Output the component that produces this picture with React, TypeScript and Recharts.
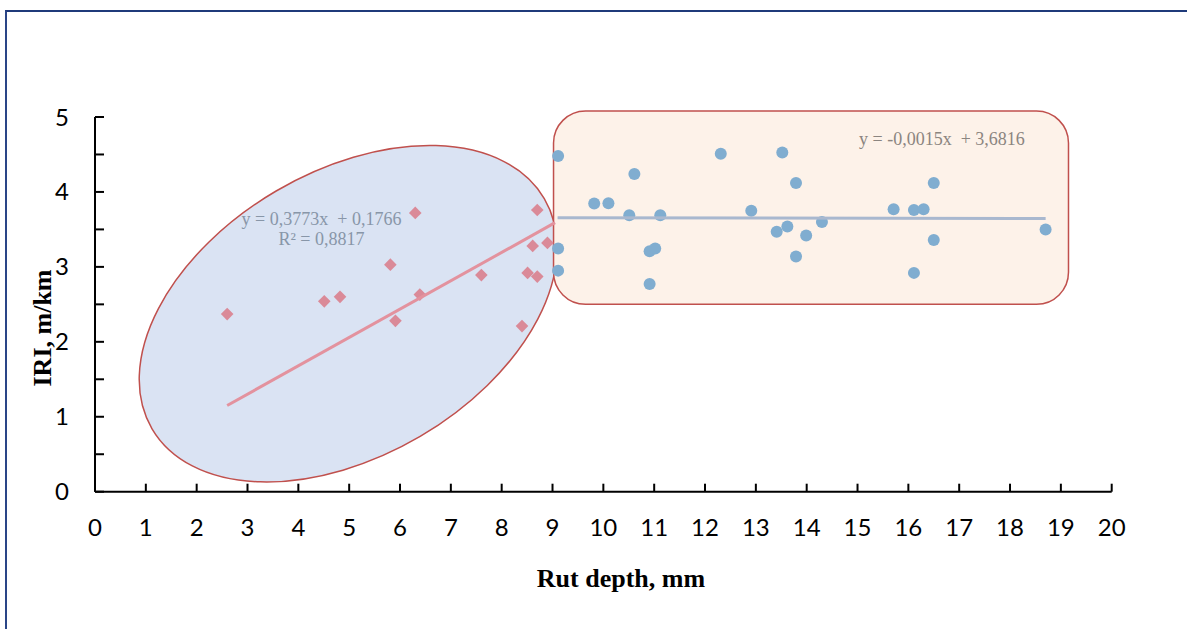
import React from "react";
import { ScatterChart, Scatter, XAxis, YAxis, ReferenceArea, Label } from "recharts";

const xTicks = [0, 1, 2, 3, 4, 5, 6, 7, 8, 9, 10, 11, 12, 13, 14, 15, 16, 17, 18, 19, 20];
const yTicks = [0, 0.5, 1, 1.5, 2, 2.5, 3, 3.5, 4, 4.5, 5];

// pink diamonds (left group)
const pinkX = [2.6, 4.51, 4.82, 5.81, 5.91, 6.3, 6.39, 7.6, 8.4, 8.51, 8.61, 8.7, 8.7, 8.9];
const pinkY = [2.37, 2.54, 2.6, 3.03, 2.28, 3.72, 2.63, 2.89, 2.21, 2.92, 3.28, 3.76, 2.87, 3.32];

// blue circles (right group)
const blueX = [9.11, 9.11, 9.11, 9.82, 10.1, 10.51, 10.61, 10.91, 11.02, 10.91, 11.12, 12.31, 12.91, 13.41,
  13.52, 13.62, 13.79, 13.79, 13.99, 14.3, 15.71, 16.11, 16.3, 16.11, 16.5, 16.5, 18.7];
const blueY = [4.48, 3.245, 2.95, 3.845, 3.85, 3.69, 4.24, 3.21, 3.245, 2.77, 3.69, 4.51, 3.75, 3.47,
  4.525, 3.54, 4.12, 3.14, 3.42, 3.6, 3.77, 3.76, 3.77, 2.92, 4.12, 3.36, 3.5];

// trend lines, end points as read
const pinkTrendX = [2.6, 9.05];
const pinkTrendY = [1.15, 3.59];
const blueTrendX = [9.1, 18.7];
const blueTrendY = [3.655, 3.645];

const pinkEq = ["y = 0,3773x  + 0,1766", "R² = 0,8817"];
const blueEq = "y = -0,0015x  + 3,6816";

const zip = (xs: number[], ys: number[]) => xs.map((x, i) => ({ x, y: ys[i] }));

const pinkData = zip(pinkX, pinkY);
const blueData = zip(blueX, blueY);
const pinkTrend = zip(pinkTrendX, pinkTrendY);
const blueTrend = zip(blueTrendX, blueTrendY);

const TILT = 30.4;

const EllipseShape = (props: any) => {
  const { x, y, width, height } = props;
  const cx = x + width / 2;
  const cy = y + height / 2;
  const W = width / 2;
  const H = height / 2;
  const t = (TILT * Math.PI) / 180;
  const c2 = Math.cos(t) ** 2;
  const s2 = Math.sin(t) ** 2;
  const rx = Math.sqrt((W * W * c2 - H * H * s2) / (c2 - s2));
  const ry = Math.sqrt((H * H * c2 - W * W * s2) / (c2 - s2));
  return (
    <ellipse cx={cx} cy={cy} rx={rx} ry={ry} transform={`rotate(${-TILT} ${cx} ${cy})`}
      fill="#dae3f3" stroke="#c0504d" strokeWidth={1.5} />
  );
};

const RoundRect = (props: any) => {
  const { x, y, width, height } = props;
  return <rect x={x} y={y} width={width} height={height} rx={32} ry={32} fill="#fdf2e9" stroke="#c0504d" strokeWidth={1.5} />;
};

const Diamond = (props: any) => {
  const { cx, cy } = props;
  const r = 6.3;
  return <polygon points={`${cx},${cy - r} ${cx + r},${cy} ${cx},${cy + r} ${cx - r},${cy}`} fill="#da8a98" />;
};

const Dot = (props: any) => <circle cx={props.cx} cy={props.cy} r={6} fill="#80add0" />;

const NoShape = () => <g />;

const tickStyle = { fontFamily: "Lato, sans-serif", fontSize: 24, fill: "#000" };
const titleFont = { fontFamily: "'Liberation Serif', serif", fontSize: 26, fontWeight: 700, fill: "#000" };
const eqFont = { fontFamily: "'Liberation Serif', serif", fontSize: 18, whiteSpace: "pre" as const };

export default function App() {
  return (
    <div style={{ position: "absolute", left: 0, top: 0, width: 1187, height: 629, background: "#fff", overflow: "hidden" }}>
      <div style={{ position: "absolute", left: 5, top: 10, width: 1300, height: 700, borderLeft: "2px solid #2a4587", borderTop: "2px solid #1f3a7a" }} />
      <div style={{ position: "absolute", left: 0, top: 0 }}>
        <ScatterChart width={1187} height={629} margin={{ top: 117, right: 75.3, bottom: 77.3, left: 35 }}>
          <XAxis type="number" dataKey="x" domain={[0, 20]} ticks={xTicks} interval={0}
            axisLine={{ stroke: "#000", strokeWidth: 2 }} tickLine={{ stroke: "#000", strokeWidth: 2 }}
            tickSize={-8} tickMargin={35} tick={tickStyle} height={60}>
            <Label content={() => (
              <text x={621} y={587} textAnchor="middle" style={titleFont}>Rut depth, mm</text>
            )} />
          </XAxis>
          <YAxis type="number" dataKey="y" domain={[0, 5]} ticks={yTicks} interval={0} width={60}
            tickFormatter={(v: number) => (Number.isInteger(v) ? String(v) : "")}
            axisLine={{ stroke: "#000", strokeWidth: 2 }} tickLine={{ stroke: "#000", strokeWidth: 2 }}
            tickSize={-9} tickMargin={35} tick={tickStyle}>
            <Label content={() => (
              <text x={42} y={328} textAnchor="middle" dominantBaseline="central" transform="rotate(-90 42 328)" style={titleFont}>IRI, m/km</text>
            )} />
          </YAxis>
          <ReferenceArea x1={0.87} x2={9.09} y1={0.13} y2={4.62} ifOverflow="visible" shape={EllipseShape} />
          <ReferenceArea x1={9.02} x2={19.15} y1={2.5} y2={5.08} ifOverflow="visible" shape={RoundRect} />
          <Scatter data={pinkData} shape={Diamond} isAnimationActive={false} />
          <Scatter data={blueData} shape={Dot} isAnimationActive={false} />
          <Scatter data={pinkTrend} shape={NoShape} line={{ stroke: "#e3929e", strokeWidth: 3 }} isAnimationActive={false} />
          <Scatter data={blueTrend} shape={NoShape} line={{ stroke: "#a9b8cf", strokeWidth: 3 }} isAnimationActive={false} />
        </ScatterChart>
      </div>
      <svg width={1187} height={629} style={{ position: "absolute", left: 0, top: 0, pointerEvents: "none" }}>
        <text x={321.5} y={225} textAnchor="middle" style={{ ...eqFont, fill: "#8896a8" }}>{pinkEq[0]}</text>
        <text x={321.5} y={245} textAnchor="middle" style={{ ...eqFont, fill: "#8896a8" }}>{pinkEq[1]}</text>
        <text x={859} y={145} style={{ ...eqFont, fill: "#8b8580" }}>{blueEq}</text>
      </svg>
    </div>
  );
}
